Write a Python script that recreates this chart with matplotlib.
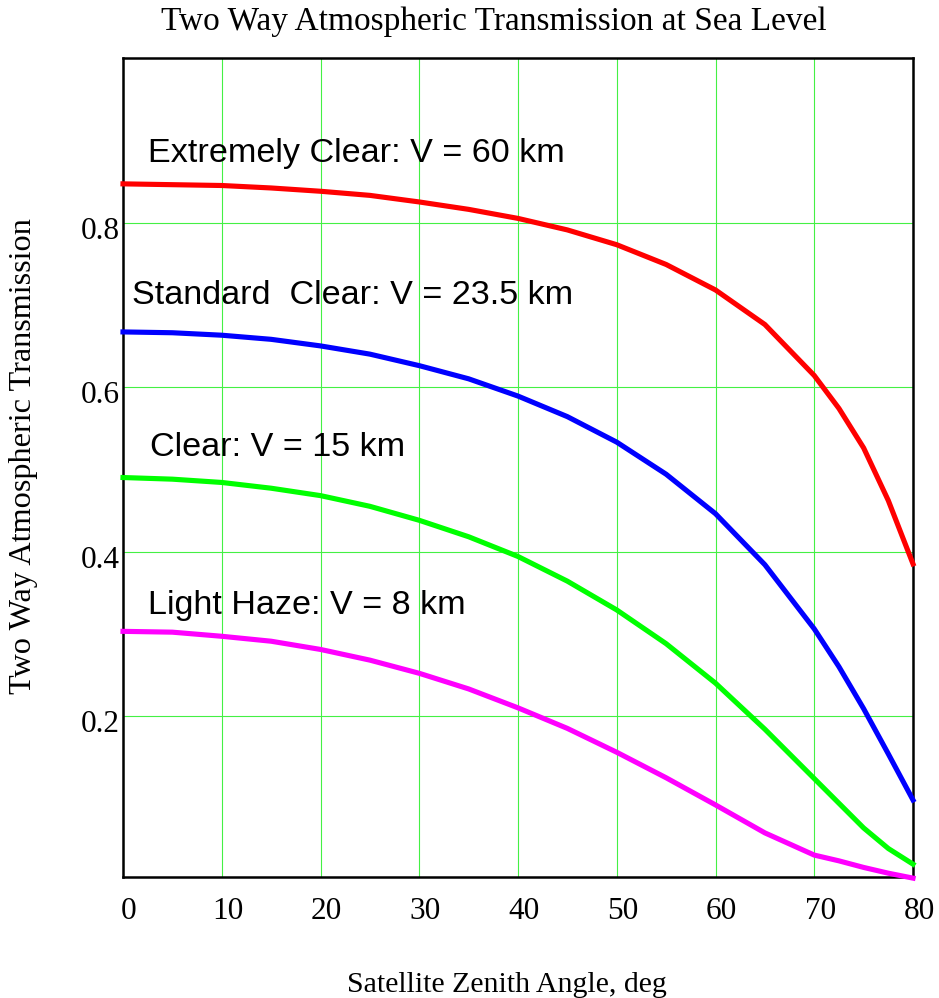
import matplotlib
matplotlib.use("Agg")
import matplotlib.pyplot as plt
import matplotlib.transforms as mtransforms

# zenith angle (deg) and two-way transmission
angle = [0, 5, 10, 15, 20, 25, 30, 35, 40, 45, 50, 55, 60, 65, 70, 72.5, 75, 77.5, 80]
extremely_clear = [0.847, 0.846, 0.845, 0.842, 0.838, 0.833, 0.825, 0.816, 0.805, 0.791,
                   0.773, 0.749, 0.718, 0.676, 0.614, 0.574, 0.526, 0.462, 0.385]
standard_clear = [0.667, 0.666, 0.663, 0.658, 0.650, 0.640, 0.626, 0.610, 0.589, 0.564,
                  0.533, 0.494, 0.446, 0.384, 0.306, 0.260, 0.209, 0.154, 0.098]
clear = [0.490, 0.488, 0.484, 0.477, 0.468, 0.455, 0.438, 0.418, 0.394, 0.364,
         0.329, 0.288, 0.240, 0.184, 0.124, 0.094, 0.064, 0.039, 0.020]
light_haze = [0.303, 0.302, 0.297, 0.291, 0.281, 0.268, 0.252, 0.233, 0.210, 0.185,
              0.156, 0.125, 0.092, 0.058, 0.031, 0.024, 0.016, 0.009, 0.003]

labels = ["Extremely Clear: V = 60 km", "Standard  Clear: V = 23.5 km",
          "Clear: V = 15 km", "Light Haze: V = 8 km"]
xticks = [0, 10, 20, 30, 40, 50, 60, 70, 80]
yticks = [0.2, 0.4, 0.6, 0.8]

serif = "Liberation Serif"
sans = "Liberation Sans"

fig = plt.figure(figsize=(9.39, 9.98), dpi=100)
ax = fig.add_axes([123 / 939, 1 - 877.3 / 998, 790 / 939, 819.3 / 998])

curves = [extremely_clear, standard_clear, clear, light_haze]
colors = ["#ff0000", "#0000ff", "#00ff00", "#ff00ff"]
for y, c in zip(curves, colors):
    ax.plot(angle, y, color=c, lw=3.7, solid_joinstyle="round", clip_on=False, zorder=3)

ax.set_xlim(0, 80)
ax.set_ylim(0.004, 1.0)
ax.set_xticks(xticks)
ax.set_yticks(yticks)
ax.set_xticklabels([str(t) for t in xticks], fontfamily=serif, fontsize=22.5)
ax.set_yticklabels(["0.2", "0.4", "0.6", "0.8"], fontfamily=serif, fontsize=22.5)
ax.tick_params(axis="both", length=0)
ax.tick_params(axis="x", pad=14)
ax.tick_params(axis="y", pad=2)
ax.grid(True, color="#44f044", lw=0.8)
ax.set_axisbelow(True)
for s in ax.spines.values():
    s.set_linewidth(1.8)

# shift tick labels like the original rendering
dx = mtransforms.ScaledTranslation(6 / 100, 0, fig.dpi_scale_trans)
for lab in ax.get_xticklabels():
    lab.set_transform(lab.get_transform() + dx)
dy = mtransforms.ScaledTranslation(0, -5 / 100, fig.dpi_scale_trans)
for lab in ax.get_yticklabels():
    lab.set_transform(lab.get_transform() + dy)

# curve annotations
text_x = [2.56, 0.88, 2.73, 2.56]
text_y = [0.873, 0.701, 0.516, 0.324]
for tx, ty, t in zip(text_x, text_y, labels):
    ax.text(tx, ty, t, fontfamily=sans, fontsize=24.6, ha="left", va="baseline", zorder=4)

fig.text(494 / 939, 1 - 30 / 998, "Two Way Atmospheric Transmission at Sea Level",
         fontfamily=serif, fontsize=24, ha="center", va="baseline")
fig.text(24 / 939, 1 - 456 / 998, "Two Way Atmospheric Transmission",
         fontfamily=serif, fontsize=23.2, rotation=90, ha="center", va="center")
fig.text(507 / 939, 1 - 991.7 / 998, "Satellite Zenith Angle, deg",
         fontfamily=serif, fontsize=21.5, ha="center", va="baseline")

fig.savefig("out.png", dpi=100)
